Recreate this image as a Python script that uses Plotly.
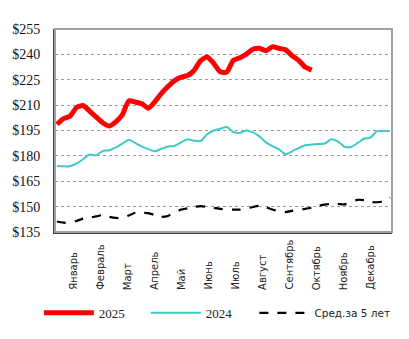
import plotly.graph_objects as go

months = ["Январь", "Февраль", "Март", "Апрель", "Май", "Июнь", "Июль",
          "Август", "Сентябрь", "Октябрь", "Ноябрь", "Декабрь"]

y2025 = [198.7, 202.0, 203.4, 208.6, 209.8, 206.5, 203.0, 199.6, 197.6, 200.1,
         204.2, 212.5, 211.8, 210.8, 208.2, 212.0, 217.0, 221.0, 224.5, 226.5,
         227.5, 230.5, 236.3, 238.5, 234.7, 229.7, 229.5, 236.5, 238.0, 240.2,
         243.0, 243.6, 242.2, 244.5, 243.6, 242.7, 239.2, 236.5, 232.5, 230.7]

y2024 = [174.0, 173.8, 173.9, 175.5, 178.0, 180.8, 180.3, 182.9, 183.3, 185.0,
         187.2, 189.5, 187.5, 185.5, 184.0, 182.7, 184.2, 185.6, 185.9, 188.0,
         189.8, 189.0, 188.8, 192.8, 195.0, 196.0, 197.1, 194.1, 193.6, 195.0,
         193.9, 191.5, 188.0, 185.7, 183.9, 181.0, 182.7, 184.6, 186.3, 186.7,
         187.0, 187.3, 189.8, 188.6, 185.5, 185.2, 187.5, 190.1, 190.8, 194.6,
         194.7, 194.7]

yavg5 = [141.2, 140.5, 140.3, 141.5, 142.9, 143.5, 144.2, 145.0, 144.0, 143.3,
         143.2, 144.8, 146.4, 146.4, 146.2, 145.0, 144.0, 144.5, 146.5, 148.2,
         149.0, 149.8, 150.3, 149.8, 149.3, 148.7, 148.3, 148.2, 148.2, 148.8,
         149.8, 150.5, 149.6, 148.3, 147.3, 146.8, 147.5, 148.2, 148.7, 149.4,
         150.5, 151.2, 151.6, 151.6, 151.3, 152.5, 154.0, 153.8, 152.7, 152.6,
         153.1, 155.3]

yticks = [135, 150, 165, 180, 195, 210, 225, 240, 255]
ytick_text = ["$" + str(v) for v in yticks]

SERIF = "Liberation Serif"
SANS = "DejaVu Sans"

fig = go.Figure()
fig.add_trace(go.Scatter(
    x=list(range(len(y2025))), y=y2025, mode="lines", name="2025",
    line=dict(color="#FF0000", width=5, shape="spline", smoothing=0.6)))
fig.add_trace(go.Scatter(
    x=list(range(len(y2024))), y=y2024, mode="lines", name="2024",
    line=dict(color="#3FCACA", width=2, shape="spline", smoothing=0.6)))
fig.add_trace(go.Scatter(
    x=list(range(len(yavg5))), y=yavg5, mode="lines", name="Сред.за 5 лет",
    legend="legend2",
    line=dict(color="#000000", width=2.2, dash="dash", shape="spline", smoothing=0.6)))

# month labels (bottom-aligned, rotated)
for i, m in enumerate(months):
    fig.add_annotation(x=2.6 + i * 4.126, xref="x", y=-0.295, yref="paper",
                       text=m, textangle=-90, showarrow=False,
                       xanchor="center", yanchor="bottom",
                       font=dict(family=SANS, size=10, color="#222"))

# frame
fig.add_shape(type="rect", xref="paper", yref="paper", x0=0, x1=1, y0=0, y1=1,
              line=dict(color="#A0A0A0", width=2), layer="above")

fig.update_layout(
    width=409, height=339,
    margin=dict(l=52, r=17, t=29, b=107),
    paper_bgcolor="white", plot_bgcolor="white",
    showlegend=True,
    legend=dict(orientation="h", xref="container", yref="container",
                x=0.095, y=0.077, xanchor="left", yanchor="middle",
                font=dict(family=SERIF, size=13, color="#222"),
                itemwidth=50, entrywidth=42, tracegroupgap=0,
                bgcolor="rgba(0,0,0,0)"),
    legend2=dict(orientation="h", xref="container", yref="container",
                 x=0.622, y=0.077, xanchor="left", yanchor="middle",
                 font=dict(family=SANS, size=10.5, color="#222"),
                 itemwidth=50,
                 bgcolor="rgba(0,0,0,0)"),
    xaxis=dict(range=[-0.30, 51.30], showticklabels=False, showgrid=False,
               zeroline=False, showline=True, linecolor="#404040", linewidth=2,
               ticks=""),
    yaxis=dict(range=[135, 255], tickvals=yticks, ticktext=ytick_text,
               tickfont=dict(family=SERIF, size=14, color="#111"),
               showgrid=True, gridcolor="#9A9A9A", griddash="dot", gridwidth=1,
               zeroline=False, showline=True, linecolor="#404040", linewidth=2,
               ticks="", ticklabelstandoff=10),
)

fig.write_html("out.html")
